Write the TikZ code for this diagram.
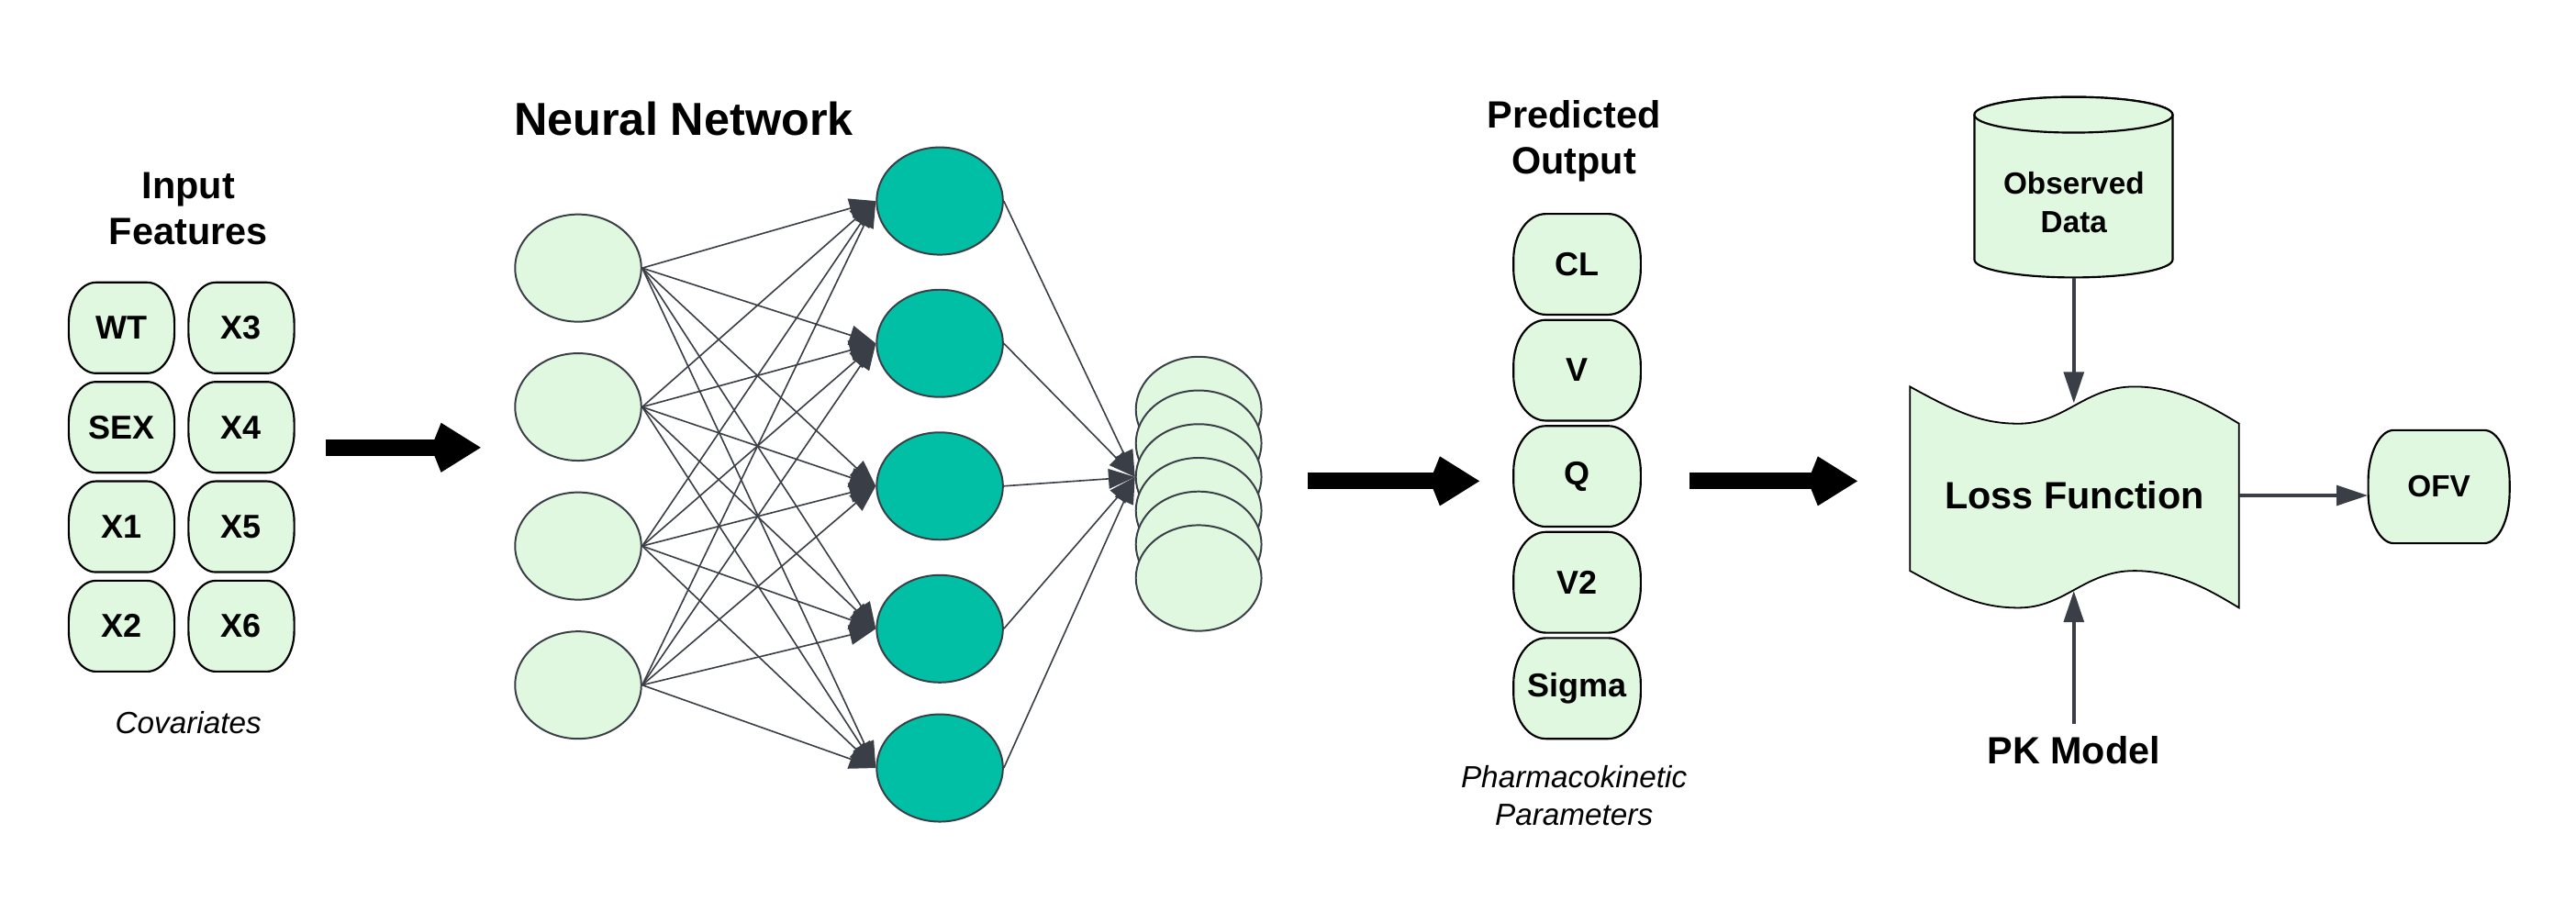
\documentclass[tikz,border=0pt]{standalone}
\usepackage{fontspec}
\setmainfont{Liberation Sans}
\usetikzlibrary{shapes.geometric,arrows.meta,positioning}

\definecolor{mint}{HTML}{E0F8E0}
\definecolor{nnteal}{HTML}{00BFA5}
\definecolor{edgegray}{HTML}{3A3F47}

\tikzset{
    innode/.style={ellipse,draw=edgegray,line width=1.1pt,fill=mint,
        minimum width=76.4pt,minimum height=65pt,inner sep=0pt},
    hidnode/.style={innode,fill=nnteal},
    nnedge/.style={draw=edgegray,line width=0.9pt,-{Triangle[length=16pt,width=12pt]}},
    bigarrow/.style={line width=10pt,-{Kite[length=30pt,width=30pt,inset=6pt,line width=0pt]}},
    flowarrow/.style={draw=edgegray,line width=2.3pt,-{Triangle[length=19pt,width=12pt]}},
    pillline/.style={draw=black,line width=1.2pt,fill=mint},
    pilltext/.style={font=\fontsize{20}{24}\selectfont\bfseries,inner sep=0pt},
    heading/.style={font=\fontsize{23}{28}\selectfont\bfseries,align=center,inner sep=0pt},
    nettitle/.style={font=\fontsize{28}{32}\selectfont\bfseries,inner sep=0pt},
    captext/.style={font=\fontsize{18.5}{22.6}\selectfont\itshape,align=center,inner sep=0pt},
}

%% box with bulging sides: [opts]{name}{x}{y}{width}{height}{text}
\newcommand{\pill}[7][]{%
    \draw[pillline] (#3-#5/2+\prx,#4-#6/2) -- (#3+#5/2-\prx,#4-#6/2)
        arc[start angle=270,end angle=360,x radius=\prx,y radius=\pry]
        -- (#3+#5/2,#4+#6/2-\pry)
        arc[start angle=0,end angle=90,x radius=\prx,y radius=\pry]
        -- (#3-#5/2+\prx,#4+#6/2)
        arc[start angle=90,end angle=180,x radius=\prx,y radius=\pry]
        -- (#3-#5/2,#4-#6/2+\pry)
        arc[start angle=180,end angle=270,x radius=\prx,y radius=\pry] -- cycle;
    \node[pilltext,minimum width=#5pt,minimum height=#6pt,#1] (#2) at (#3,#4) {#7};
}

\begin{document}
\begin{tikzpicture}[x=1pt,y=-1pt]
    \useasboundingbox (0,0) rectangle (1559.4,552.2);
    %% Input features
    \node[heading] (inhead) at (114,126.5) {Input\\Features};
    \def\prx{16.5}\def\pry{24.5}
    \pill{wt}{73.6}{198.5}{64}{55}{WT}
    \pill{sex}{73.6}{258.7}{64}{55}{SEX}
    \pill{x1}{73.6}{318.9}{64}{55}{X1}
    \pill{x2}{73.6}{379.1}{64}{55}{X2}
    \pill{x3}{146.1}{198.5}{64}{55}{X3}
    \pill{x4}{146.1}{258.7}{64}{55}{X4}
    \pill{x5}{146.1}{318.9}{64}{55}{X5}
    \pill{x6}{146.1}{379.1}{64}{55}{X6}
    \node[captext] (covar) at (114,437.5) {Covariates};
    %% Arrows between the stages
    \coordinate (featout) at (197,271);
    \coordinate (netin) at (291,271);
    \coordinate (netout) at (791.4,291.3);
    \coordinate (parin) at (895.6,291.3);
    \coordinate (parout) at (1022.6,291.3);
    \coordinate (lossin) at (1124.4,291.3);
    \draw[bigarrow] (featout) -- (netin);
    \draw[bigarrow] (netout) -- (parin);
    \draw[bigarrow] (parout) -- (lossin);
    %% Neural network
    \node[nettitle,anchor=west] (nnhead) at (311,72) {Neural Network};
    \foreach \i/\y in {1/162.3,2/246.4,3/330.6,4/414.8}
        \node[innode] (in\i) at (350,\y) {};
    \foreach \j/\y in {1/121.7,2/207.9,3/294.3,4/380.7,5/465}
        \node[hidnode] (hid\j) at (568.9,\y) {};
    \foreach \k in {1,...,6}
        \node[innode,minimum width=76pt,minimum height=64pt] (out\k) at (725.6,{248+20.4*(\k-1)}) {};
    \foreach \i in {1,...,4}
        \foreach \j in {1,...,5}
            \draw[nnedge] (in\i.east) -- (hid\j.west);
    \foreach \j in {1,...,5}
        \draw[nnedge] (hid\j.east) -- (out3.west);
    %% Predicted output
    \node[heading] (outhead) at (952.8,85.4) {Predicted\\Output};
    \def\prx{19.6}\def\pry{27.5}
    \pill{cl}{954.7}{160}{77}{61}{CL}
    \pill{v}{954.7}{224.2}{77}{61}{V}
    \pill{q}{954.7}{288.4}{77}{61}{Q}
    \pill{v2}{954.7}{352.6}{77}{61}{V2}
    \pill{sigma}{954.7}{416.8}{77}{61}{Sigma}
    \node[captext] (pkpar) at (952.8,481.7) {Pharmacokinetic\\Parameters};
    %% Observed data
    \draw[draw=black,line width=1.2pt,fill=mint] (1195.2,69.5) -- (1195.2,157.2)
        arc[start angle=180,end angle=0,x radius=60,y radius=10.8]
        -- (1315.2,69.5) arc[start angle=0,end angle=-180,x radius=60,y radius=10.8] -- cycle;
    \draw[draw=black,line width=1.2pt,fill=mint] (1255.2,69.5) ellipse[x radius=60,y radius=10.8];
    \node[font=\fontsize{18.5}{23}\selectfont\bfseries,align=center,inner sep=0pt,
        minimum height=91pt] (obs) at (1255.4,122.5) {Observed\\Data};
    %% Loss function
    \draw[draw=black,line width=1pt,fill=mint] (1156.2,234.1)
        .. controls (1185,250) and (1200,256.5) .. (1222,256.5)
        .. controls (1250,256.5) and (1262,234.1) .. (1292,234.1)
        .. controls (1318,234.1) and (1338,246) .. (1355.4,256.5)
        -- (1355.4,368)
        .. controls (1338,357.5) and (1318,345.6) .. (1292,345.6)
        .. controls (1262,345.6) and (1250,368) .. (1222,368)
        .. controls (1200,368) and (1185,361.5) .. (1156.2,345.6) -- cycle;
    \node[heading,minimum width=199.2pt] (loss) at (1255.8,300) {Loss Function};
    \coordinate (losstop) at (1255.4,244.2);
    \coordinate (lossbot) at (1255.4,357.7);
    %% PK model and OFV
    \node[heading,inner sep=7pt] (pk) at (1255.4,454) {PK Model};
    \def\prx{15.5}\def\pry{31}
    \pill[font=\fontsize{18.5}{22}\selectfont\bfseries]{ofv}{1476.4}{294.7}{85.6}{68.5}{OFV}
    \draw[flowarrow] (obs.south) -- (losstop);
    \draw[flowarrow] (pk.north) -- (lossbot);
    \draw[flowarrow] (loss.east) -- (loss.east -| ofv.west);
\end{tikzpicture}
\end{document}
